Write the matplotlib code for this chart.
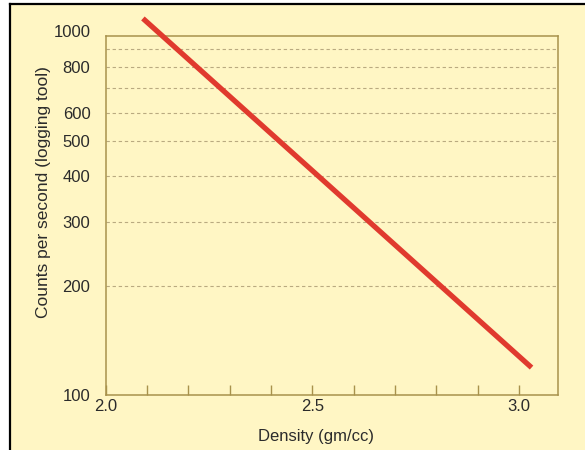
import matplotlib.pyplot as plt
from matplotlib.lines import Line2D
from matplotlib.patches import Rectangle
from matplotlib.ticker import FixedLocator, NullLocator

plt.rcParams['font.family'] = ['Liberation Sans', 'DejaVu Sans']

# Data (straight line on a log axis)
density = [2.09, 3.03]
counts = [1090, 119]

# Axis furniture
x_ticks = [2.0, 2.1, 2.2, 2.3, 2.4, 2.5, 2.6, 2.7, 2.8, 2.9, 3.0]
x_labels = ['2.0', '', '', '', '', '2.5', '', '', '', '', '3.0']
y_ticks = [100, 200, 300, 400, 500, 600, 800]
y_labels = ['100', '200', '300', '400', '500', '600', '800']
grid_levels = [200, 300, 400, 500, 600, 700, 800, 900]

bg = '#FFF6C4'
frame_col = '#A8924C'
text_col = '#2b2b2b'
fs = 12

fig = plt.figure(figsize=(5.85, 4.5), dpi=100, facecolor='white')

# yellow panel with a black edge on left and top
fig.patches.append(Rectangle((10 / 585, 0), 1, 1 - 4 / 450, transform=fig.transFigure,
                             facecolor=bg, edgecolor='none', zorder=-5))
fig.lines.append(Line2D([10 / 585, 10 / 585], [0, 1 - 4 / 450], transform=fig.transFigure,
                        color='black', lw=1.6, zorder=-4))
fig.lines.append(Line2D([10 / 585, 1], [1 - 4 / 450, 1 - 4 / 450], transform=fig.transFigure,
                        color='black', lw=1.6, zorder=-4))

ax = fig.add_axes([105.7 / 585, 1 - 395 / 450, 452.3 / 585, 359.3 / 450])
ax.set_facecolor(bg)
ax.set_yscale('log')
ax.set_xlim(2.0, 3.094)
ax.set_ylim(100, 977)

for lev in grid_levels:
    ax.axhline(lev, color='#B9AA80', lw=0.8, linestyle=(0, (3, 2.5)), zorder=1)

ax.plot(density, counts, color='#E03A2E', lw=3.8, solid_capstyle='butt',
        clip_on=False, zorder=3)

for sp in ax.spines.values():
    sp.set_color(frame_col)
    sp.set_linewidth(1.1)

ax.xaxis.set_major_locator(FixedLocator(x_ticks))
ax.set_xticklabels(x_labels)
ax.xaxis.set_minor_locator(NullLocator())
ax.tick_params(axis='x', direction='in', length=7, width=1, color=frame_col,
               labelsize=fs, labelcolor=text_col, pad=3)

ax.yaxis.set_major_locator(FixedLocator(y_ticks))
ax.yaxis.set_minor_locator(NullLocator())
ax.set_yticklabels(y_labels)
ax.tick_params(axis='y', length=0, labelsize=fs, labelcolor=text_col, pad=11)

# 1000 sits just above the frame
ax.text(-15 / 452.3, 1000, '1000', transform=ax.get_yaxis_transform(),
        ha='right', va='center', fontsize=fs, color=text_col)

ax.set_xlabel('Density (gm/cc)', fontsize=fs, color=text_col)
ax.xaxis.set_label_coords(0.465, -0.095)
ax.set_ylabel('Counts per second (logging tool)', fontsize=12.5, color=text_col)
ax.yaxis.set_label_coords(-0.122, 0.565)

fig.savefig('out.png', dpi=100, facecolor=fig.get_facecolor())
